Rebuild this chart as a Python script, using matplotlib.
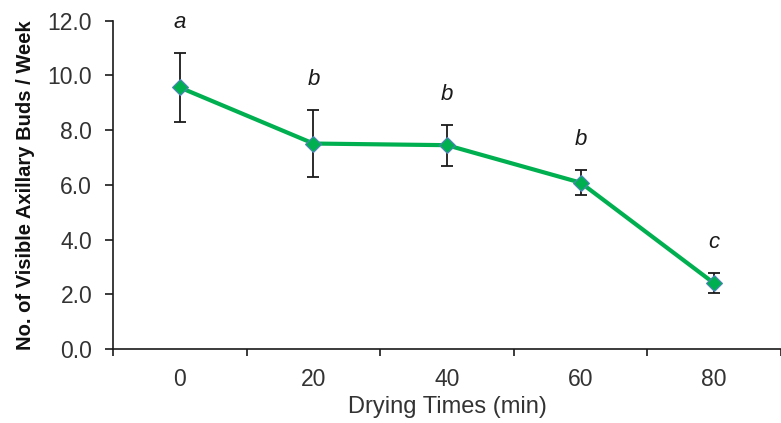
import matplotlib
matplotlib.use("Agg")
import matplotlib.pyplot as plt
import numpy as np

plt.rcParams['font.family'] = ['Liberation Sans', 'DejaVu Sans']

drying_times = ["0", "20", "40", "60", "80"]
buds_mean = [9.56, 7.51, 7.45, 6.08, 2.40]
buds_err = [1.26, 1.24, 0.75, 0.46, 0.37]
sig_letters = ["a", "b", "b", "b", "c"]
y_ticks = [0.0, 2.0, 4.0, 6.0, 8.0, 10.0, 12.0]

W, H = 781, 423
fig = plt.figure(figsize=(W / 100, H / 100), dpi=100)
ax_left, ax_right = 113 / W, 1.0
ax_bottom, ax_top = 1 - 349 / H, 1 - 20.7 / H
ax = fig.add_axes([ax_left, ax_bottom, ax_right - ax_left, ax_top - ax_bottom])

x = np.arange(len(drying_times))
green = "#00B050"

ax.errorbar(x, buds_mean, yerr=buds_err, fmt='none', ecolor='#1a1a1a',
            elinewidth=1.3, capsize=4.5, capthick=1.3, zorder=2)
ax.plot(x, buds_mean, color=green, lw=3.0, marker='D', markersize=8,
        markerfacecolor=green, markeredgecolor='#4F81BD', markeredgewidth=0.8,
        zorder=3)

for xi, m, e, lab in zip(x, buds_mean, buds_err, sig_letters):
    ax.annotate(lab, (xi, m + e), xytext=(0, 22), textcoords='offset points',
                ha='center', va='center', fontsize=16, style='italic',
                color='#1a1a1a')

span = (W * (ax_right - ax_left)) / 134.6
ax.set_xlim(-0.5, -0.5 + span)
ax.set_ylim(0, 12)

ax.set_yticks(y_ticks)
ax.set_yticklabels([f"{v:.1f}" for v in y_ticks])
ax.tick_params(axis='y', which='major', direction='out', length=6, width=1.2,
               pad=9, labelsize=16.5, colors='#1a1a1a', labelcolor='#333333')

ax.set_xticks(np.arange(-0.5, len(drying_times) + 0.5, 1.0))
ax.set_xticklabels([])
ax.set_xticks(x, minor=True)
ax.set_xticklabels(drying_times, minor=True)
ax.tick_params(axis='x', which='major', direction='out', length=5, width=1.2,
               colors='#1a1a1a')
ax.tick_params(axis='x', which='minor', length=0, pad=14, labelsize=16.5,
               labelcolor='#333333')

for s in ['top', 'right']:
    ax.spines[s].set_visible(False)
for s in ['left', 'bottom']:
    ax.spines[s].set_linewidth(1.2)
    ax.spines[s].set_color('#1a1a1a')

ax.set_xlabel("Drying Times (min)", fontsize=17, color='#333333', labelpad=3)
ax.set_ylabel("No. of Visible Axillary Buds / Week", fontsize=14.5,
              fontweight='bold', color='#111111', labelpad=9)

fig.savefig("out.png", dpi=100)
